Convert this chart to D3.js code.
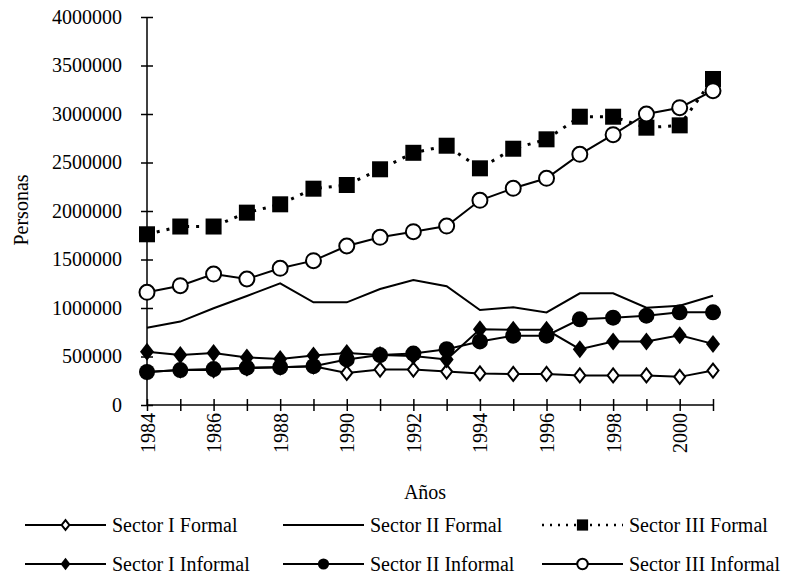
<!DOCTYPE html>
<html>
<head>
<meta charset="utf-8">
<script src="https://cdn.jsdelivr.net/npm/d3@7"></script>
<style>
  body { margin: 0; background: #fff; }
  svg text { font-family: "Liberation Serif", "Times New Roman", serif; fill: #000; }
</style>
</head>
<body>
<div id="chart"></div>
<script>
// Personas por sector, formal / informal, 1984-2001

var years = [1984, 1985, 1986, 1987, 1988, 1989, 1990, 1991, 1992, 1993, 1994, 1995, 1996, 1997, 1998, 1999, 2000, 2001];
var yTicks = [0, 500000, 1000000, 1500000, 2000000, 2500000, 3000000, 3500000, 4000000];

var sector1Formal = [340000, 360000, 360000, 380000, 390000, 400000, 330000, 365000, 365000, 345000, 325000, 320000, 320000, 305000, 305000, 305000, 290000, 355000];
var sector2Formal = [797000, 860000, 997000, 1124000, 1254000, 1058000, 1058000, 1196000, 1289000, 1225000, 979000, 1007000, 955000, 1151000, 1151000, 1003000, 1024000, 1127000];
var sector3Formal = [1760000, 1840000, 1840000, 1983000, 2069000, 2230000, 2268000, 2430000, 2600000, 2673000, 2440000, 2642000, 2739000, 2972000, 2972000, 2859000, 2883000, 3361000];
var sector1Informal = [550000, 515000, 535000, 490000, 475000, 510000, 535000, 515000, 505000, 470000, 780000, 775000, 775000, 575000, 655000, 655000, 720000, 630000];
var sector2Informal = [340000, 360000, 370000, 385000, 390000, 400000, 470000, 515000, 530000, 575000, 655000, 715000, 715000, 883000, 900000, 921000, 955000, 955000];
var sector3Informal = [1162000, 1230000, 1350000, 1299000, 1409000, 1488000, 1639000, 1729000, 1787000, 1845000, 2110000, 2234000, 2337000, 2584000, 2787000, 3000000, 3065000, 3240000];

var series = [
  { name: "Sector I Formal", values: sector1Formal, marker: "diamondOpen", dash: null },
  { name: "Sector II Formal", values: sector2Formal, marker: null, dash: null },
  { name: "Sector III Formal", values: sector3Formal, marker: "square", dash: "3,7" },
  { name: "Sector I Informal", values: sector1Informal, marker: "diamond", dash: null },
  { name: "Sector II Informal", values: sector2Informal, marker: "circle", dash: null },
  { name: "Sector III Informal", values: sector3Informal, marker: "circleOpen", dash: null }
];

(function() {
  var W = 791, H = 575;
  var margin = { top: 17, left: 147, right: 78, bottom: 170 };
  var width = W - margin.left - margin.right,
      height = H - margin.top - margin.bottom;
  var fontSize = "20px";

  var svg = d3.select("#chart")
    .append("svg")
    .attr("width", W)
    .attr("height", H);

  var g = svg.append("g")
    .attr("transform", "translate(" + margin.left + "," + margin.top + ")");

  var x = d3.scaleLinear().domain([1984, 2001]).range([0, width]);
  var y = d3.scaleLinear().domain([0, 4000000]).range([height, 0]);

  // y axis, ticks cross the line
  var yAxis = g.append("g")
    .call(d3.axisLeft(y).tickValues(yTicks).tickSize(6).tickFormat(d3.format("d")));
  yAxis.select(".domain").attr("stroke-width", 1.5).attr("d", "M0," + height + "V0");
  yAxis.selectAll(".tick line").attr("x1", 6).attr("stroke-width", 1.5);
  yAxis.selectAll(".tick text")
    .style("font-size", fontSize)
    .attr("x", -25);

  // x axis
  var xAxis = g.append("g")
    .attr("transform", "translate(0," + height + ")")
    .call(d3.axisBottom(x).tickValues(years).tickSize(6)
      .tickFormat(function(d) { return d % 2 === 0 ? d : ""; }));
  xAxis.select(".domain").attr("stroke-width", 1.5).attr("d", "M0,0H" + width);
  xAxis.selectAll(".tick line").attr("y1", -6).attr("stroke-width", 1.5);
  xAxis.selectAll(".tick text")
    .style("font-size", fontSize)
    .attr("text-anchor", "end")
    .attr("transform", "translate(0,8) rotate(-90)")
    .attr("x", 0)
    .attr("y", 0)
    .attr("dy", "0.35em");

  g.append("text")
    .attr("transform", "translate(" + (-126) + "," + (210 - margin.top) + ") rotate(-90)")
    .attr("text-anchor", "middle")
    .attr("dy", "0.35em")
    .style("font-size", fontSize)
    .text("Personas");

  g.append("text")
    .attr("x", 425 - margin.left)
    .attr("y", 499 - margin.top)
    .attr("text-anchor", "middle")
    .style("font-size", fontSize)
    .text("Años");

  var line = d3.line()
    .x(function(d, i) { return x(years[i]); })
    .y(function(d) { return y(d); });

  function drawMarker(sel, type, k) {
    k = k || 1;
    if (type === "square") {
      sel.append("rect").attr("x", -8 * k).attr("y", -8 * k).attr("width", 16 * k).attr("height", 16 * k)
        .attr("fill", "#000");
    } else if (type === "circle") {
      sel.append("circle").attr("r", 8 * k).attr("fill", "#000");
    } else if (type === "circleOpen") {
      sel.append("circle").attr("r", 7.5 * k).attr("fill", "#fff").attr("stroke", "#000").attr("stroke-width", 2);
    } else if (type === "diamond") {
      sel.append("path").attr("d", "M0," + (-9 * k) + "L" + (7 * k) + ",0L0," + (9 * k) + "L" + (-7 * k) + ",0Z")
        .attr("fill", "#000");
    } else if (type === "diamondOpen") {
      sel.append("path").attr("d", "M0," + (-7 * k) + "L" + (5.5 * k) + ",0L0," + (7 * k) + "L" + (-5.5 * k) + ",0Z")
        .attr("fill", "#fff").attr("stroke", "#000").attr("stroke-width", 2);
    }
  }

  series.forEach(function(s) {
    g.append("path")
      .datum(s.values)
      .attr("fill", "none")
      .attr("stroke", "#000")
      .attr("stroke-width", s.dash ? 3 : 2)
      .attr("stroke-dasharray", s.dash)
      .attr("d", line);

    if (s.marker) {
      g.selectAll(null)
        .data(s.values)
        .enter().append("g")
        .attr("transform", function(d, i) { return "translate(" + x(years[i]) + "," + y(d) + ")"; })
        .each(function() { drawMarker(d3.select(this), s.marker); });
    }
  });

  // legend
  var legendX = [25, 283, 542], legendY = [525, 564];
  var lineLen = 81;
  series.forEach(function(s, i) {
    var col = i % 3, row = Math.floor(i / 3);
    var lg = svg.append("g")
      .attr("transform", "translate(" + legendX[col] + "," + legendY[row] + ")");
    lg.append("line")
      .attr("x1", 0).attr("x2", lineLen)
      .attr("stroke", "#000")
      .attr("stroke-width", s.dash ? 2.5 : 2)
      .attr("stroke-dasharray", s.dash ? "2,6" : null);
    if (s.marker) {
      drawMarker(lg.append("g").attr("transform", "translate(" + (lineLen / 2) + ",0)"), s.marker, 0.7);
    }
    lg.append("text")
      .attr("x", lineLen + 6)
      .attr("dy", "0.35em")
      .style("font-size", fontSize)
      .text(s.name);
  });
})();
</script>
</body>
</html>
